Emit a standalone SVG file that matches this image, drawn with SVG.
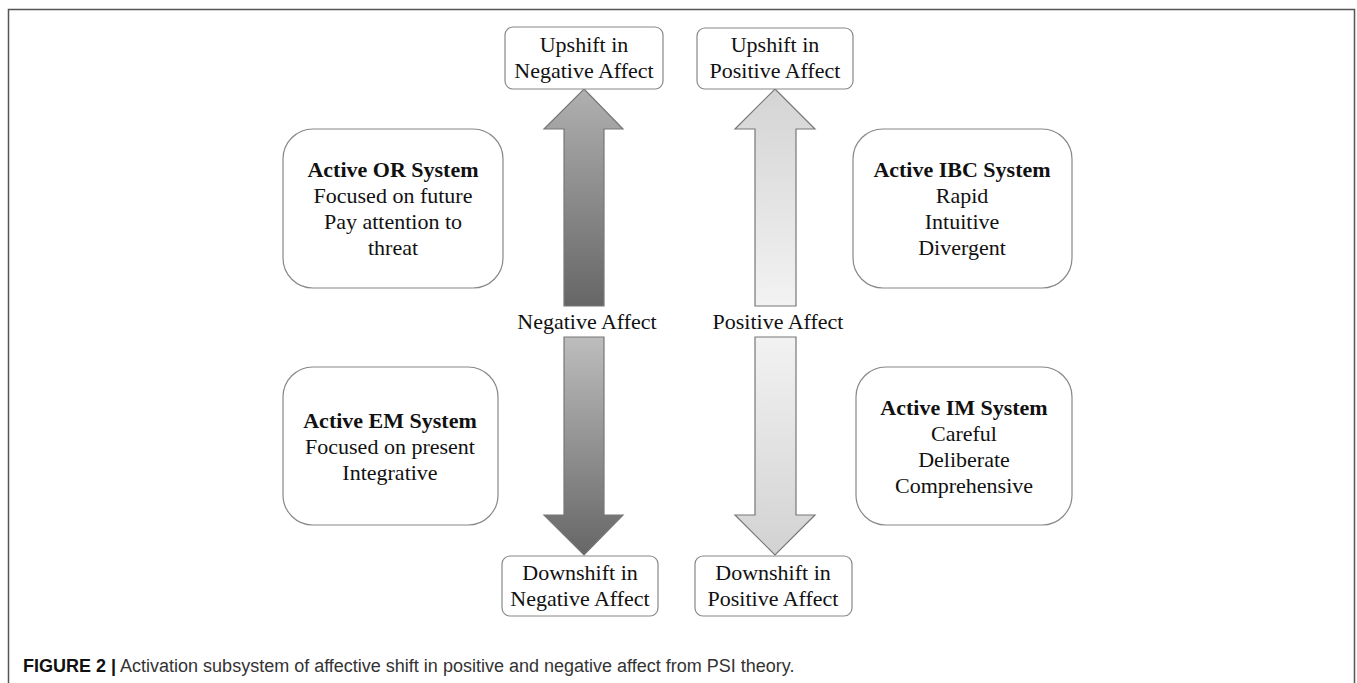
<svg xmlns="http://www.w3.org/2000/svg" width="1357" height="683" viewBox="0 0 1357 683">
<style>
.bx{fill:#fff;stroke:#888;stroke-width:1.2}
.t{font-family:"Liberation Serif","Times New Roman",serif;font-size:22px;fill:#111;text-anchor:middle}
.b{font-weight:bold}
.ar{stroke:#777;stroke-width:1.2}
.cap{font-family:"Liberation Sans",Arial,sans-serif;font-size:18px;fill:#333}
</style>
<defs>
<linearGradient id="gNU" x1="0" y1="0" x2="0" y2="1"><stop offset="0" stop-color="#b0b0b0"/><stop offset="1" stop-color="#666"/></linearGradient>
<linearGradient id="gND" x1="0" y1="0" x2="0" y2="1"><stop offset="0" stop-color="#bdbdbd"/><stop offset="1" stop-color="#666"/></linearGradient>
<linearGradient id="gPU" x1="0" y1="0" x2="0" y2="1"><stop offset="0" stop-color="#d4d4d4"/><stop offset="1" stop-color="#f2f2f2"/></linearGradient>
<linearGradient id="gPD" x1="0" y1="0" x2="0" y2="1"><stop offset="0" stop-color="#f2f2f2"/><stop offset="1" stop-color="#d2d2d2"/></linearGradient>
</defs>
<rect width="1357" height="683" fill="#fff"/>
<path d="M8.5 683 V9.5 H1354.5 V683" fill="none" stroke="#555" stroke-width="1.5"/>

<g id="connectors">
<path class="ar" fill="url(#gNU)" d="M584 89 L623 129 L604 129 L604 306 L564 306 L564 129 L544 129 Z"/>
<path class="ar" fill="url(#gND)" d="M564 337 L604 337 L604 515 L623 515 L584 555 L544 515 L564 515 Z"/>
<path class="ar" fill="url(#gPU)" d="M775 89 L815 129 L796 129 L796 306 L755 306 L755 129 L735 129 Z"/>
<path class="ar" fill="url(#gPD)" d="M755 337 L796 337 L796 515 L815 515 L775 555 L735 515 L755 515 Z"/>
<text class="t" x="587" y="329">Negative Affect</text>
<text class="t" x="778" y="329">Positive Affect</text>
</g>

<g id="upNeg">
<rect class="bx" x="505" y="27" width="158" height="62" rx="8"/>
<text class="t" x="584" y="52">Upshift in</text>
<text class="t" x="584" y="78">Negative Affect</text>
</g>
<g id="upPos">
<rect class="bx" x="697" y="28" width="156" height="61" rx="8"/>
<text class="t" x="775" y="52">Upshift in</text>
<text class="t" x="775" y="78">Positive Affect</text>
</g>
<g id="downNeg">
<rect class="bx" x="502" y="556" width="156" height="60" rx="8"/>
<text class="t" x="580" y="580">Downshift in</text>
<text class="t" x="580" y="606">Negative Affect</text>
</g>
<g id="downPos">
<rect class="bx" x="695" y="556" width="157" height="60" rx="8"/>
<text class="t" x="773" y="580">Downshift in</text>
<text class="t" x="773" y="606">Positive Affect</text>
</g>

<g id="orSystem">
<rect class="bx" x="283" y="129" width="220" height="159" rx="30"/>
<text class="t b" x="393" y="177">Active OR System</text>
<text class="t" x="393" y="203">Focused on future</text>
<text class="t" x="393" y="229">Pay attention to</text>
<text class="t" x="393" y="255">threat</text>
</g>
<g id="ibcSystem">
<rect class="bx" x="853" y="129" width="219" height="159" rx="30"/>
<text class="t b" x="962" y="177">Active IBC System</text>
<text class="t" x="962" y="203">Rapid</text>
<text class="t" x="962" y="229">Intuitive</text>
<text class="t" x="962" y="255">Divergent</text>
</g>
<g id="emSystem">
<rect class="bx" x="283" y="367" width="215" height="158" rx="30"/>
<text class="t b" x="390" y="428">Active EM System</text>
<text class="t" x="390" y="454">Focused on present</text>
<text class="t" x="390" y="480">Integrative</text>
</g>
<g id="imSystem">
<rect class="bx" x="856" y="367" width="216" height="158" rx="30"/>
<text class="t b" x="964" y="415">Active IM System</text>
<text class="t" x="964" y="441">Careful</text>
<text class="t" x="964" y="467">Deliberate</text>
<text class="t" x="964" y="493">Comprehensive</text>
</g>

<text class="cap" x="23" y="672"><tspan font-weight="bold" fill="#111">FIGURE 2 |</tspan> Activation subsystem of affective shift in positive and negative affect from PSI theory.</text>
</svg>
